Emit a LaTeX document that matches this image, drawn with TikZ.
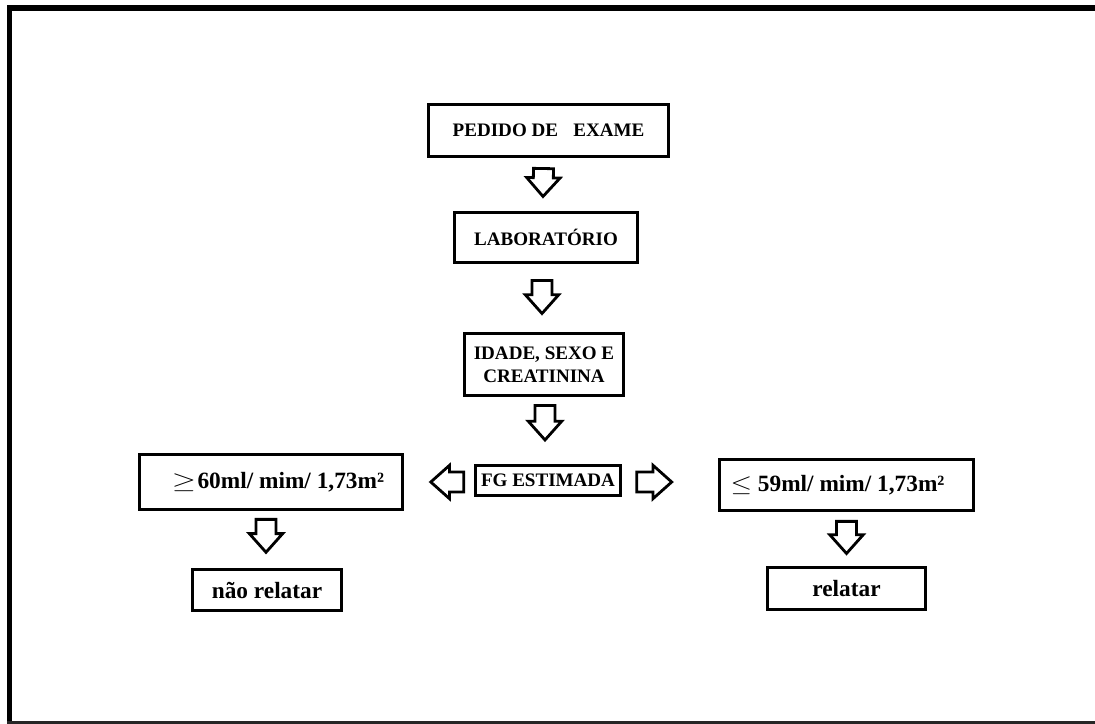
\documentclass[tikz,border=0pt]{standalone}
\usepackage{fontspec}
\setmainfont{Liberation Serif}
\usetikzlibrary{calc}
\tikzset{
	box/.style={draw, line width=2.3pt, inner sep=0pt, align=center, font=\bfseries\fontsize{14.3}{17.3}\selectfont},
	bigbox/.style={box, font=\bfseries\fontsize{17.5}{21}\selectfont},
	arrowline/.style={line width=2.1pt, line join=miter},
}
\def\hollowarrow(#1)(#2){%
	\coordinate (ha-n) at ($(#2)!14pt!(#1)$);
	\draw[arrowline] ($(#1)!7.5pt!90:(#2)$) -- ($(ha-n)!7.5pt!90:(#2)$) -- ($(ha-n)!12.5pt!90:(#2)$) -- (#2)
		-- ($(ha-n)!12.5pt!-90:(#2)$) -- ($(ha-n)!7.5pt!-90:(#2)$) -- ($(#1)!7.5pt!-90:(#2)$) -- cycle;}

\begin{document}
\begin{tikzpicture}[x=0.75pt, y=-0.75pt]
	%%%%% START %%%%%
	\useasboundingbox (0, 0) rectangle (1095, 724);
	
	\fill[black] (7, 5) rectangle (1095, 11);
	\fill[black] (7, 5) rectangle (12, 724);
	\fill[black!85] (7, 721) rectangle (1095, 724);
	
	\node[box, minimum width=180pt, minimum height=39pt] (pedido) at (548.5, 130.5) {PEDIDO DE\hspace{0.8em}EXAME};
	\node[box, minimum width=137pt, minimum height=37.5pt] (lab) at (546, 237.5) {LABORATÓRIO};
	\node[box, minimum width=119pt, minimum height=46.5pt] (idade) at (544, 364.5) {IDADE, SEXO E\\CREATININA};
	\node[box, minimum width=109pt, minimum height=22.5pt] (fg) at (548, 480.5) {FG ESTIMADA};
	
	\node[bigbox, minimum width=197pt, minimum height=41pt] (geq) at (271, 482) {\hspace{10.5pt}\scalebox{1.35}[1]{$\geq$}\hspace{1pt}60ml/ mim/ 1,73m²};
	\node[bigbox, minimum width=112pt, minimum height=31pt] (naorel) at (267, 590) {não relatar};
	\node[bigbox, minimum width=190.5pt, minimum height=38pt] (leq) at (846.5, 485) {\scalebox{1.2}[1]{$\leq$} 59ml/ mim/ 1,73m²\hspace{13.5pt}};
	\node[bigbox, minimum width=118.5pt, minimum height=31.5pt] (rel) at (846.5, 588.5) {relatar};
	
	% arrows
	\coordinate (a1s) at ($(pedido.south)+(-5, 10.5)$);
	\coordinate (a1e) at ($(lab.north)+(-3, -14.5)$);
	\coordinate (a2s) at ($(lab.south)+(-4, 16.5)$);
	\coordinate (a2e) at ($(idade.north)+(-2, -18.5)$);
	\coordinate (a3s) at ($(idade.south)+(1, 8.5)$);
	\coordinate (a3e) at ($(fg.north)+(-3, -24)$);
	\coordinate (als) at ($(fg.west)+(-10, 1.5)$);
	\coordinate (ale) at ($(fg.west)+(-43, 1.5)$);
	\coordinate (ars) at ($(fg.east)+(14.5, 1.5)$);
	\coordinate (are) at ($(fg.east)+(49.5, 1.5)$);
	\coordinate (a4s) at ($(geq.south)+(-5, 8.5)$);
	\coordinate (a4e) at ($(naorel.north)+(-1, -15.5)$);
	\coordinate (a5s) at ($(leq.south)+(0, 9.5)$);
	\coordinate (a5e) at ($(rel.north)+(0, -12.5)$);
	
	\hollowarrow(a1s)(a1e)
	\hollowarrow(a2s)(a2e)
	\hollowarrow(a3s)(a3e)
	\hollowarrow(als)(ale)
	\hollowarrow(ars)(are)
	\hollowarrow(a4s)(a4e)
	\hollowarrow(a5s)(a5e)
	%%%%% END %%%%%
\end{tikzpicture}
\end{document}
